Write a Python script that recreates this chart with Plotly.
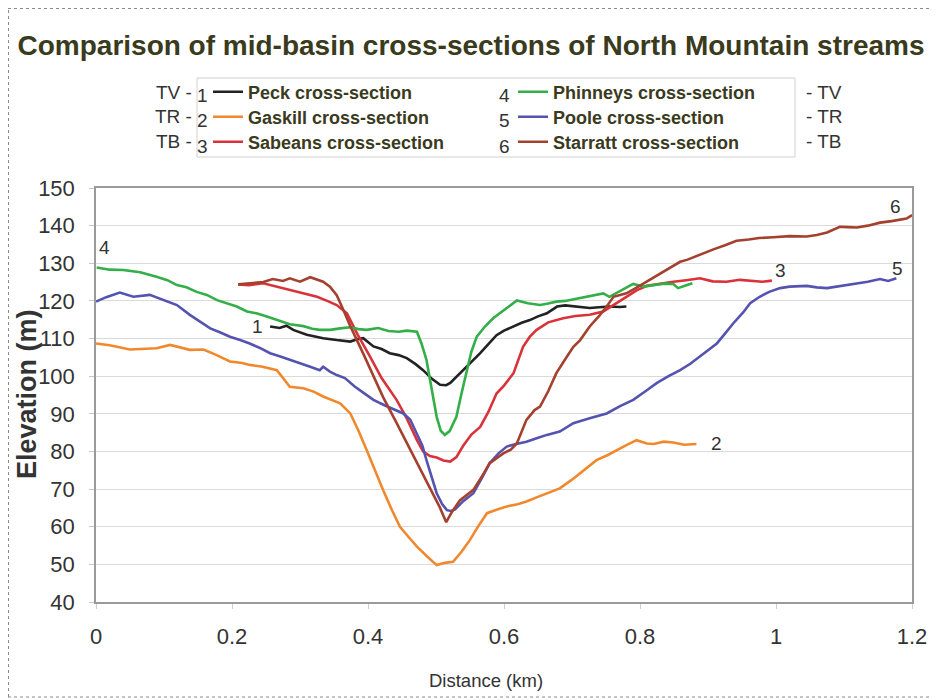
import plotly.graph_objects as go

# ---------------- data ----------------
peck_d = [0.256, 0.27, 0.28, 0.29, 0.31, 0.334, 0.354, 0.374, 0.385, 0.393, 0.408, 0.42, 0.432, 0.445,
          0.457, 0.47, 0.481, 0.494, 0.506, 0.515, 0.521, 0.53, 0.54, 0.552, 0.565, 0.577, 0.589, 0.60,
          0.614, 0.626, 0.638, 0.65, 0.663, 0.678, 0.69, 0.702, 0.715, 0.726, 0.74, 0.755, 0.77, 0.78]
peck_e = [113.2, 112.8, 113.4, 112.3, 111.0, 110.1, 109.6, 109.2, 109.9, 110.1, 107.9, 107.2, 106.1, 105.6,
          104.8, 103.2, 101.6, 99.3, 97.7, 97.6, 98.2, 99.8, 101.6, 103.9, 106.1, 108.5, 110.9, 112.1,
          113.2, 114.2, 114.9, 115.9, 116.7, 118.5, 118.8, 118.5, 118.2, 118.1, 118.3, 118.5, 118.4, 118.5]

gaskill_d = [0.0, 0.02, 0.05, 0.07, 0.089, 0.109, 0.125, 0.138, 0.158, 0.175, 0.197, 0.215, 0.226, 0.245,
             0.266, 0.275, 0.285, 0.305, 0.32, 0.334, 0.345, 0.359, 0.374, 0.386, 0.398, 0.41, 0.422, 0.435,
             0.447, 0.46, 0.472, 0.487, 0.501, 0.513, 0.525, 0.537, 0.55, 0.562, 0.575, 0.59, 0.604, 0.62,
             0.633, 0.648, 0.663, 0.682, 0.70, 0.72, 0.736, 0.752, 0.766, 0.78, 0.795, 0.81, 0.82, 0.835,
             0.849, 0.865, 0.883]
gaskill_e = [108.7, 108.2, 107.1, 107.3, 107.4, 108.3, 107.5, 107.0, 107.1, 105.8, 103.9, 103.5, 103.0, 102.5,
             101.6, 99.5, 97.2, 96.8, 95.9, 94.6, 93.9, 92.8, 90.1, 85.5, 80.4, 75.0, 69.8, 64.5,
             60.0, 57.2, 54.7, 52.1, 49.8, 50.4, 50.7, 53.2, 56.5, 60.1, 63.6, 64.6, 65.4, 66.0,
             66.7, 67.8, 68.9, 70.2, 72.5, 75.4, 77.7, 79.0, 80.4, 81.7, 83.0, 82.1, 82.0, 82.6,
             82.4, 81.8, 82.0]

sabeans_d = [0.209, 0.225, 0.246, 0.266, 0.28, 0.295, 0.31, 0.325, 0.34, 0.354, 0.369, 0.385, 0.403, 0.42,
             0.442, 0.457, 0.472, 0.481, 0.491, 0.501, 0.511, 0.521, 0.53, 0.54, 0.552, 0.565, 0.577, 0.589,
             0.60, 0.614, 0.628, 0.638, 0.648, 0.665, 0.687, 0.705, 0.726, 0.746, 0.762, 0.78, 0.795, 0.81,
             0.83, 0.849, 0.868, 0.888, 0.907, 0.927, 0.947, 0.967, 0.98, 0.994]
sabeans_e = [124.4, 124.2, 124.7, 123.8, 123.0, 122.4, 121.8, 121.1, 120.0, 118.9, 116.7, 111.0, 105.2, 99.5,
             93.7, 88.8, 83.0, 80.0, 78.8, 78.4, 77.6, 77.3, 78.5, 81.5, 84.5, 86.5, 90.5, 95.4,
             97.5, 100.8, 107.8, 110.5, 112.3, 114.3, 115.4, 116.0, 116.3, 117.2, 119.0, 121.1, 122.8, 124.0,
             124.6, 125.1, 125.5, 126.0, 125.2, 125.1, 125.6, 125.4, 125.1, 125.4]

phinneys_d = [0.001, 0.02, 0.04, 0.065, 0.089, 0.105, 0.119, 0.133, 0.148, 0.163, 0.178, 0.192, 0.207, 0.222,
              0.236, 0.25, 0.266, 0.285, 0.305, 0.318, 0.329, 0.344, 0.359, 0.374, 0.386, 0.398, 0.415, 0.43,
              0.445, 0.457, 0.472, 0.479, 0.486, 0.493, 0.501, 0.507, 0.513, 0.52, 0.53, 0.537, 0.545, 0.552,
              0.56, 0.572, 0.584, 0.60, 0.619, 0.635, 0.653, 0.665, 0.677, 0.69, 0.702, 0.72, 0.735, 0.746,
              0.755, 0.77, 0.79, 0.805, 0.82, 0.835, 0.849, 0.856, 0.866, 0.877]
phinneys_e = [128.9, 128.3, 128.2, 127.6, 126.4, 125.5, 124.2, 123.6, 122.4, 121.6, 120.2, 119.4, 118.5, 117.2,
              116.7, 115.9, 114.9, 113.8, 113.3, 112.6, 112.3, 112.3, 112.7, 113.0, 112.5, 112.3, 112.8, 112.0,
              111.8, 112.1, 111.8, 108.5, 104.3, 97.0, 89.2, 85.5, 84.4, 85.4, 89.2, 95.0, 101.6, 106.5,
              110.5, 113.2, 115.4, 117.5, 120.1, 119.4, 118.9, 119.3, 119.8, 120.0, 120.4, 121.2, 121.6, 122.0,
              121.1, 122.5, 124.5, 123.8, 124.2, 124.6, 124.5, 123.4, 124.0, 124.7]

poole_d = [0.0, 0.015, 0.035, 0.055, 0.079, 0.099, 0.119, 0.138, 0.153, 0.168, 0.183, 0.197, 0.212, 0.226,
           0.241, 0.256, 0.27, 0.285, 0.3, 0.315, 0.329, 0.334, 0.344, 0.354, 0.366, 0.38, 0.394, 0.408,
           0.425, 0.44, 0.452, 0.462, 0.472, 0.48, 0.486, 0.494, 0.501, 0.509, 0.516, 0.522, 0.528, 0.54,
           0.555, 0.567, 0.579, 0.592, 0.604, 0.618, 0.633, 0.648, 0.663, 0.682, 0.702, 0.726, 0.751, 0.77,
           0.79, 0.808, 0.825, 0.842, 0.859, 0.874, 0.888, 0.9, 0.913, 0.925, 0.937, 0.952, 0.962, 0.976,
           0.99, 1.006, 1.02, 1.045, 1.06, 1.075, 1.09, 1.105, 1.119, 1.135, 1.153, 1.165, 1.177]
poole_e = [119.8, 121.0, 122.2, 121.1, 121.6, 120.2, 118.9, 116.3, 114.6, 112.7, 111.6, 110.5, 109.6, 108.7,
           107.5, 106.1, 105.3, 104.3, 103.5, 102.5, 101.6, 102.5, 101.2, 100.3, 99.5, 97.3, 95.5, 93.7,
           92.2, 91.0, 90.1, 88.5, 84.8, 81.5, 77.7, 73.2, 68.9, 66.0, 64.4, 64.2, 64.6, 66.8,
           68.9, 72.8, 76.9, 79.5, 81.3, 82.0, 82.6, 83.5, 84.4, 85.3, 87.5, 88.8, 90.1, 92.0,
           93.7, 96.0, 98.2, 100.0, 101.6, 103.3, 105.2, 107.0, 108.7, 111.3, 114.0, 117.0, 119.4, 121.1,
           122.4, 123.4, 123.8, 124.0, 123.6, 123.4, 123.8, 124.3, 124.7, 125.1, 125.8, 125.3, 126.0]

starratt_d = [0.209, 0.225, 0.246, 0.26, 0.275, 0.285, 0.3, 0.315, 0.334, 0.344, 0.354, 0.364, 0.374, 0.393,
              0.41, 0.422, 0.442, 0.457, 0.472, 0.486, 0.498, 0.506, 0.515, 0.523, 0.535, 0.555, 0.567, 0.579,
              0.599, 0.61, 0.619, 0.633, 0.645, 0.653, 0.665, 0.677, 0.69, 0.702, 0.712, 0.726, 0.74, 0.751,
              0.761, 0.78, 0.795, 0.81, 0.825, 0.839, 0.859, 0.869, 0.89, 0.908, 0.925, 0.942, 0.96, 0.975,
              0.996, 1.02, 1.045, 1.06, 1.075, 1.094, 1.105, 1.119, 1.135, 1.153, 1.17, 1.192, 1.2]
starratt_e = [124.4, 124.6, 125.0, 125.8, 125.3, 126.0, 125.1, 126.3, 125.1, 123.8, 121.5, 117.5, 113.3, 106.0,
              99.5, 94.5, 87.6, 82.2, 76.8, 72.0, 67.5, 65.0, 61.2, 63.8, 67.0, 69.8, 73.2, 76.9,
              79.5, 80.5, 82.2, 88.4, 91.0, 91.9, 96.0, 100.8, 104.5, 107.8, 109.6, 113.2, 116.0, 118.5,
              121.1, 122.0, 123.5, 125.1, 126.6, 128.2, 130.4, 130.9, 132.5, 133.7, 134.8, 136.0, 136.3, 136.7,
              136.9, 137.2, 137.1, 137.5, 138.2, 139.7, 139.6, 139.5, 140.0, 140.8, 141.2, 141.9, 142.8]

series_names = ["Peck cross-section", "Gaskill cross-section", "Sabeans cross-section",
                "Phinneys cross-section", "Poole cross-section", "Starratt cross-section"]
series_colors = ["#222222", "#F0882E", "#D8333A", "#34AE48", "#5553B0", "#A4412E"]

x_tickvals = [0, 0.2, 0.4, 0.6, 0.8, 1.0, 1.2]
x_ticktext = ["0", "0.2", "0.4", "0.6", "0.8", "1", "1.2"]

# end labels: (text, distance, elevation)
end_labels = [("1", 0.237, 113.1), ("2", 0.912, 82.0), ("3", 1.006, 128.2),
              ("4", 0.012, 134.3), ("5", 1.179, 128.7), ("6", 1.175, 145.2)]

# ---------------- figure ----------------
FONT = "Liberation Sans, Arial, sans-serif"
OLIVE = "#3a3a1c"

OFF = 8                      # the page body adds an 8 px margin around the figure
W, H = 937 - OFF, 700 - OFF
L, R, T, B = 96 - OFF, 25, 188 - OFF, 98
PW, PH = W - L - R, H - T - B


def px_x(page_px):
    return (page_px - OFF - L) / PW


def px_y(page_py):
    return (H - B - (page_py - OFF)) / PH


data = [(peck_d, peck_e), (gaskill_d, gaskill_e), (sabeans_d, sabeans_e),
        (phinneys_d, phinneys_e), (poole_d, poole_e), (starratt_d, starratt_e)]
legend_ids = ["legend", "legend2", "legend3", "legend4", "legend5", "legend6"]
rows_py = [92, 117, 142]          # page y of legend rows
col_text_px = [248, 553]          # page x where legend text starts

fig = go.Figure()
for i, ((xd, yd), name, col) in enumerate(zip(data, series_names, series_colors)):
    fig.add_trace(go.Scatter(
        x=xd, y=yd, mode="lines", name=name,
        line=dict(color=col, width=2.6),
        legend=legend_ids[i],
    ))

legend_font = dict(family=FONT, size=18, color=OLIVE, weight="bold")
legend_layouts = {}
for i, lid in enumerate(legend_ids):
    lx = col_text_px[i // 3] - OFF - 40
    ry = rows_py[i % 3] - OFF
    legend_layouts[lid] = dict(x=lx / W, y=1 - ry / H, xref="container", yref="container",
                               xanchor="left", yanchor="middle", orientation="v",
                               bgcolor="rgba(0,0,0,0)", borderwidth=0, font=legend_font,
                               itemwidth=30)

annotations = []
for txt, d, e in end_labels:
    annotations.append(dict(x=d, y=e, xref="x", yref="y", text=txt, showarrow=False,
                            font=dict(family=FONT, size=19, color="#333333")))

left_tags = ["TV -", "TR -", "TB -"]
right_tags = ["- TV", "- TR", "- TB"]
for k, py in enumerate(rows_py):
    annotations.append(dict(x=px_x(194), y=px_y(py), xref="paper", yref="paper", text=left_tags[k],
                            xanchor="right", yanchor="middle", showarrow=False,
                            font=dict(family=FONT, size=19, color="#333333")))
    annotations.append(dict(x=px_x(202), y=px_y(py + 4), xref="paper", yref="paper", text=str(k + 1),
                            xanchor="center", yanchor="middle", showarrow=False,
                            font=dict(family=FONT, size=19, color="#333333")))
    annotations.append(dict(x=px_x(504), y=px_y(py + 4), xref="paper", yref="paper", text=str(k + 4),
                            xanchor="center", yanchor="middle", showarrow=False,
                            font=dict(family=FONT, size=19, color="#333333")))
    annotations.append(dict(x=px_x(804), y=px_y(py), xref="paper", yref="paper", text=right_tags[k],
                            xanchor="left", yanchor="middle", showarrow=False,
                            font=dict(family=FONT, size=19, color="#333333")))

# axis titles as annotations for exact placement
annotations.append(dict(x=px_x(486), y=px_y(680), xref="paper", yref="paper", text="Distance (km)",
                        xanchor="center", yanchor="middle", showarrow=False,
                        font=dict(family=FONT, size=18.5, color="#333333")))
annotations.append(dict(x=px_x(27), y=px_y(394), xref="paper", yref="paper", text="Elevation (m)",
                        xanchor="center", yanchor="middle", showarrow=False, textangle=-90,
                        font=dict(family=FONT, size=27, color="#333333", weight="bold")))

shapes = [
    # legend frame
    dict(type="rect", xref="paper", yref="paper", x0=px_x(197), x1=px_x(795), y0=px_y(157), y1=px_y(78),
         line=dict(color="#d0d0d0", width=1)),
    # outer dotted frame (right and bottom edges of the picture)
    dict(type="line", xref="paper", yref="paper", x0=px_x(934), x1=px_x(934), y0=px_y(697), y1=px_y(8),
         line=dict(color="#8a8a8a", width=1, dash="dot")),
    dict(type="line", xref="paper", yref="paper", x0=px_x(8), x1=px_x(934), y0=px_y(697), y1=px_y(697),
         line=dict(color="#8a8a8a", width=1, dash="dot")),
    dict(type="line", xref="paper", yref="paper", x0=px_x(8.5), x1=px_x(8.5), y0=px_y(697), y1=px_y(8),
         line=dict(color="#8a8a8a", width=1, dash="dot")),
    dict(type="line", xref="paper", yref="paper", x0=px_x(8), x1=px_x(934), y0=px_y(8.5), y1=px_y(8.5),
         line=dict(color="#8a8a8a", width=1, dash="dot")),
]

fig.update_layout(
    width=W, height=H,
    margin=dict(l=L, r=R, t=T, b=B, autoexpand=False),
    paper_bgcolor="white", plot_bgcolor="white",
    title=dict(text="Comparison of mid-basin cross-sections of North Mountain streams",
               x=(471 - OFF) / W, xanchor="center", xref="container", y=1 - (45 - OFF) / H,
               yanchor="middle", yref="container",
               font=dict(family=FONT, size=28, color=OLIVE, weight="bold")),
    showlegend=True,
    xaxis=dict(range=[0, 1.2], tickmode="array", tickvals=x_tickvals, ticktext=x_ticktext,
               showgrid=False, zeroline=False, showline=True, linecolor="#9a9a9a", linewidth=1.5,
               mirror=True, ticks="outside", ticklen=5, tickcolor="#d0d0d0", automargin=False,
               tickfont=dict(family=FONT, size=22, color="#333333"), ticklabelstandoff=9),
    yaxis=dict(range=[40, 150], dtick=10, tick0=40, showgrid=True, gridcolor="#dadada", gridwidth=1,
               zeroline=False, showline=True, linecolor="#9a9a9a", linewidth=1.5, mirror=True,
               ticks="outside", ticklen=5, tickcolor="#c8c8c8", automargin=False,
               tickfont=dict(family=FONT, size=22, color="#333333"), ticklabelstandoff=10),
    annotations=annotations,
    shapes=shapes,
    **legend_layouts,
)

fig.write_html("out.html")
